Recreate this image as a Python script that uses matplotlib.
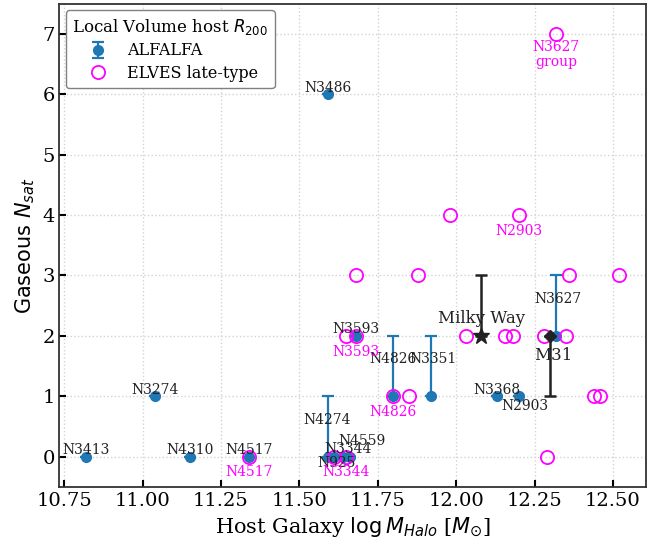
import numpy as np
import matplotlib
matplotlib.use("Agg")
import matplotlib.pyplot as plt

plt.rcParams['font.family'] = 'DejaVu Serif'

# ALFALFA gaseous satellite counts per host
alf_names = ["N3413", "N3274", "N4310", "N4517", "N3486", "N4274", "N925",
             "N3344", "N4559", "N3593", "N4826", "N3351", "N3368", "N2903", "N3627"]
alf_mhalo = [10.82, 11.04, 11.15, 11.34, 11.59, 11.59, 11.61,
             11.64, 11.66, 11.68, 11.80, 11.92, 12.13, 12.20, 12.32]
alf_nsat = [0, 1, 0, 0, 6, 0, 0, 0, 0, 2, 1, 1, 1, 1, 2]
alf_err_up = [0, 0, 0, 0, 0, 1, 0, 0, 0, 0, 1, 1, 0, 0, 1]

# ELVES late-type hosts
elv_mhalo = [11.34, 11.61, 11.65, 11.65, 11.68, 11.80, 11.85, 11.68, 11.88,
             11.98, 12.20, 12.03, 12.155, 12.18, 12.28, 12.35, 12.36, 12.52,
             12.44, 12.46, 12.29, 12.32]
elv_nsat = [0, 0, 0, 2, 2, 1, 1, 3, 3, 4, 4, 2, 2, 2, 2, 2, 3, 3, 1, 1, 0, 7]
elv_labels = {"N4517": (11.34, 0), "N3344": (11.65, 0), "N3593": (11.68, 2),
              "N4826": (11.80, 1), "N2903": (12.20, 4), "N3627\ngroup": (12.32, 7)}

# Milky Way and M31
mw_mhalo, mw_nsat, mw_err_up = 12.08, 2, 1
m31_mhalo, m31_nsat, m31_err_lo = 12.30, 2, 1

# label offsets (dx, dy) in data units
alf_off = {"N4274": (0, 0.6), "N4559": (0.04, 0.26), "N3344": (0.015, 0.12),
           "N925": (0.01, -0.11), "N4826": (0, 0.62), "N3351": (0.005, 0.62),
           "N2903": (0.02, -0.16), "N3627": (0.005, 0.61)}
elv_off = {"N3627\ngroup": (0, -0.34)}

fig = plt.figure(figsize=(6.64, 5.43), dpi=100)
ax = fig.add_axes([0.0896, 0.1037, 0.883, 0.889])

ax.errorbar(alf_mhalo, alf_nsat, yerr=[np.zeros(len(alf_err_up)), alf_err_up],
            fmt='o', color='#1f77b4', ms=7, elinewidth=1.6, capsize=4,
            capthick=1.6, label='ALFALFA', zorder=3)
ax.plot(elv_mhalo, elv_nsat, 'o', mfc='none', mec='magenta', ms=9.5, mew=1.3,
        label='ELVES late-type', zorder=4)

ax.errorbar([mw_mhalo], [mw_nsat], yerr=[[0], [mw_err_up]], fmt='*', color='#222222',
            ms=12, elinewidth=1.8, capsize=4, capthick=1.8, zorder=5)
ax.errorbar([m31_mhalo], [m31_nsat], yerr=[[m31_err_lo], [0]], fmt='D', color='#222222',
            ms=6, elinewidth=1.8, capsize=4, capthick=1.8, zorder=5)

for name, x, y in zip(alf_names, alf_mhalo, alf_nsat):
    dx, dy = alf_off.get(name, (0, 0.11))
    ax.text(x + dx, y + dy, name, ha='center', va='center', fontsize=10,
            color='#222222', zorder=6)

for name, (x, y) in elv_labels.items():
    dx, dy = elv_off.get(name, (0, -0.26))
    ax.text(x + dx, y + dy, name, ha='center', va='center', fontsize=10,
            color='magenta', linespacing=1.05, zorder=6)

ax.text(mw_mhalo, mw_nsat + 0.28, "Milky Way", ha='center', va='center',
        fontsize=12, color='#222222', zorder=6)
ax.text(m31_mhalo + 0.01, m31_nsat - 0.32, "M31", ha='center', va='center',
        fontsize=12, color='#222222', zorder=6)

ax.set_xlim(10.735, 12.605)
ax.set_ylim(-0.5, 7.5)
ax.set_xticks(np.arange(10.75, 12.51, 0.25))
ax.set_xlabel(r"Host Galaxy $\log M_{Halo}$ [$M_{\odot}$]", fontsize=15)
ax.set_ylabel(r"$\mathrm{Gaseous}\ N_{sat}$", fontsize=15)
ax.tick_params(direction='in', length=5, width=1.5, labelsize=14)
ax.grid(True, ls=':', color='lightgray', lw=1)
for sp in ax.spines.values():
    sp.set_linewidth(1.3)
    sp.set_color('#333333')

handles, labels = ax.get_legend_handles_labels()
order = [labels.index('ALFALFA'), labels.index('ELVES late-type')]
ax.legend([handles[i] for i in order], [labels[i] for i in order],
          loc='upper left', title=r"Local Volume host $R_{200}$",
          fontsize=11.5, title_fontsize=12, framealpha=1, edgecolor='gray',
          labelspacing=0.35, borderaxespad=0.4)

fig.savefig("out.png", dpi=100)
